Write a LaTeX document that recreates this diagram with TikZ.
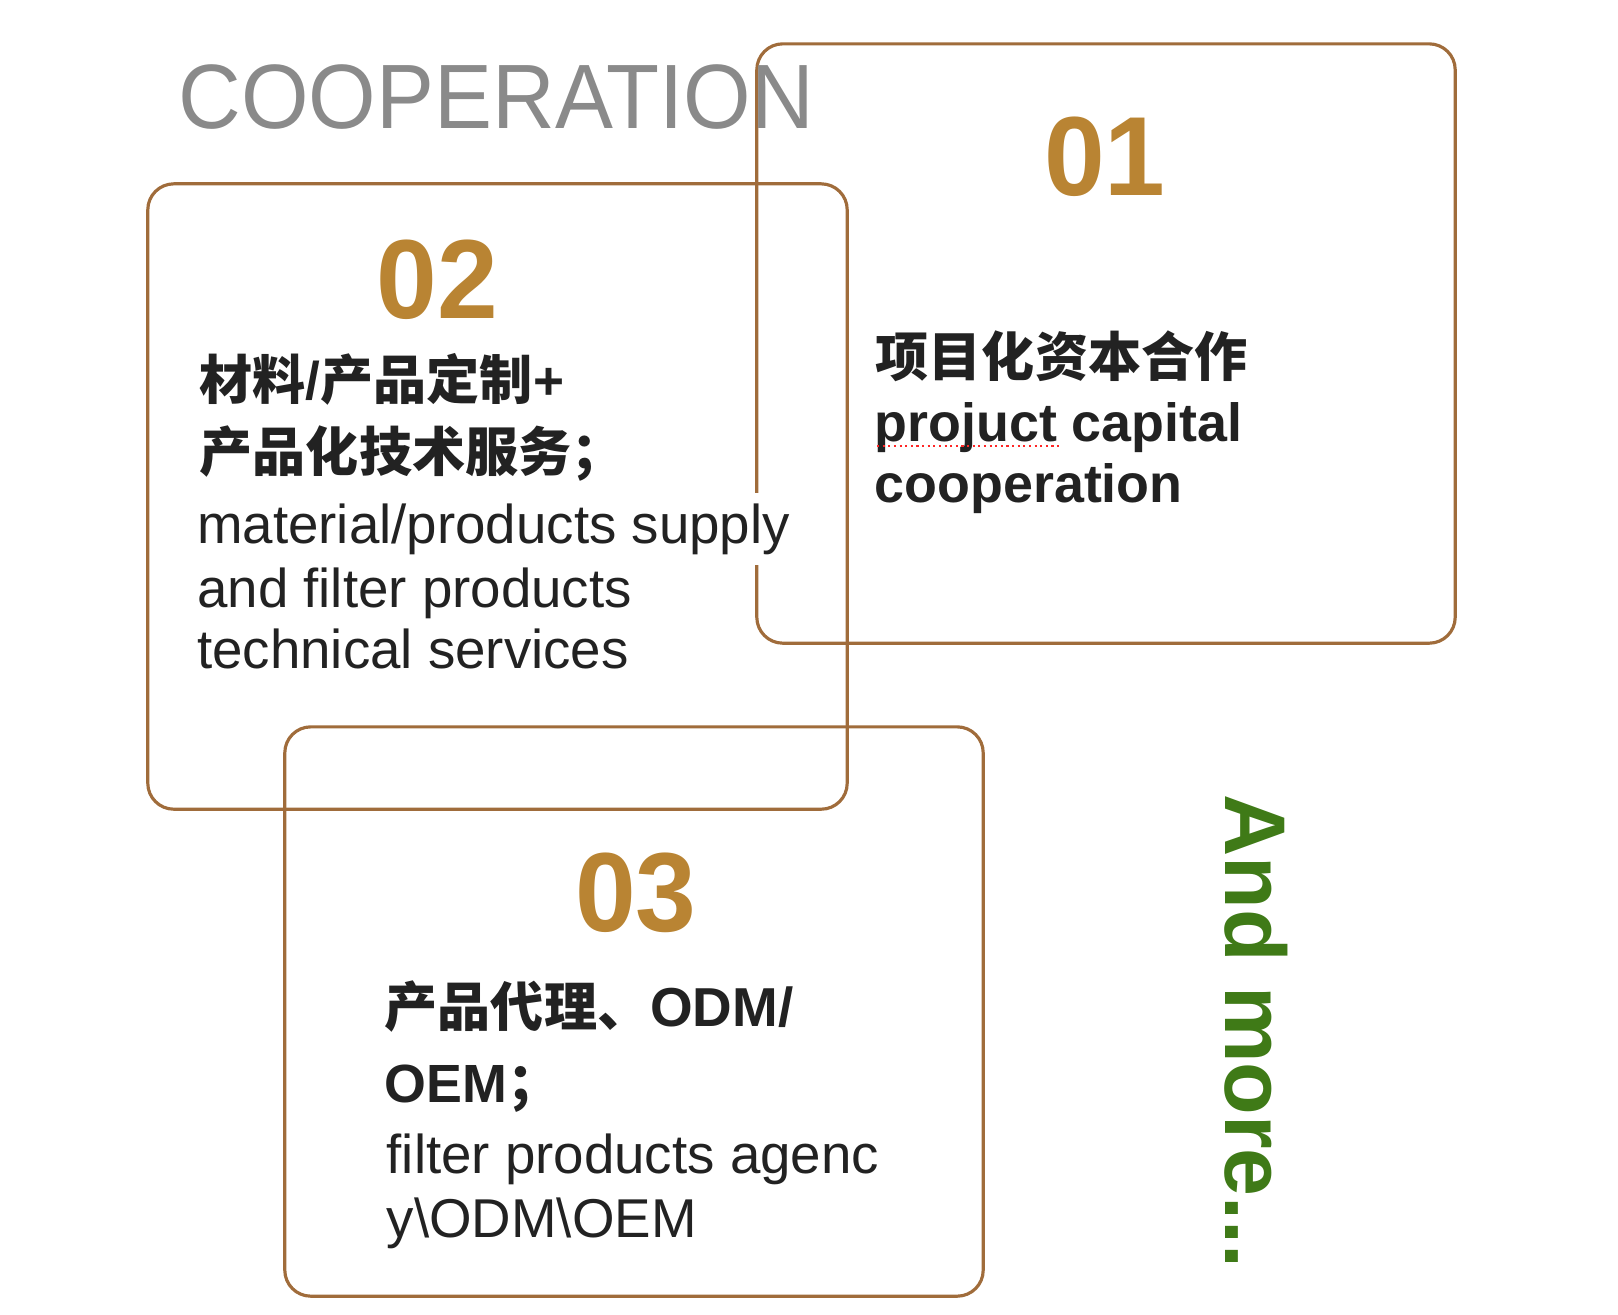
\documentclass[tikz,border=0pt]{standalone}
\usepackage{fontspec}
\setmainfont{Liberation Sans}
\newfontfamily\cjk{Noto Sans CJK SC}
\usepackage{xcolor}
\definecolor{cardbrown}{HTML}{A06C3B}
\definecolor{numgold}{HTML}{B98433}
\definecolor{titlegray}{HTML}{8A8A8A}
\definecolor{moregreen}{HTML}{3F7A17}
\definecolor{ink}{HTML}{222222}

\begin{document}
\begin{tikzpicture}[x=0.01cm,y=-0.01cm,
  card/.style={draw=cardbrown,line width=0.9pt,rounded corners=0.26cm,inner sep=0pt},
  num/.style={anchor=base,inner sep=0pt,text=numgold,font=\fontsize{32pt}{32pt}\selectfont\bfseries,xscale=0.97,transform shape},
  cn/.style={anchor=base west,inner sep=0pt,text=ink,font=\fontsize{15.1pt}{18pt}\selectfont\cjk\bfseries},
  enb/.style={anchor=base west,inner sep=0pt,text=ink,font=\fontsize{15.3pt}{18pt}\selectfont\bfseries},
  en/.style={anchor=base west,inner sep=0pt,text=ink,font=\fontsize{15.55pt}{18pt}\selectfont}]

  \useasboundingbox (0,0) rectangle (1618,1314);

  % cards
  \node[card,minimum width=6.98cm,minimum height=5.99cm] (box1) at (1106,343.5) {};
  \node[card,minimum width=6.99cm,minimum height=6.25cm] (box2) at (497.5,496.5) {};
  \node[card,minimum width=6.98cm,minimum height=5.69cm] (box3) at (634,1011.5) {};

  \node[anchor=base west,inner sep=0pt,text=titlegray,font=\fontsize{26pt}{26pt}\selectfont,
    xscale=0.95,transform shape] (title) at (178,128) {COOPERATION};

  % card 01
  \node[num] (n01) at (1105,195) {01};
  \node[cn] (t1a) at (875,376) {项目化资本合作};
  \node[enb] (t1b) at (874,441) {projuct capital};
  \node[enb] (t1c) at (874,502) {cooperation};
  \draw[red!85,densely dotted,line width=0.6pt] (t1b.base west) ++(3,5) -- ++(182,0);

  % card 02
  \node[num] (n02) at (437.5,318) {02};
  \node[cn] (t2a) at (199,399) {材料{\rmfamily/}产品定制{\rmfamily+}};
  \node[cn] (t2b) at (199,471) {产品化技术服务；};
  \node[en,fill=white,inner ysep=3pt] (t2c) at (196.5,543) {material/products supply};
  \node[en] (t2d) at (196.5,607) {and filter products};
  \node[en] (t2e) at (196.5,668) {technical services};

  % card 03
  \node[num] (n03) at (636,931) {03};
  \node[cn] (t3a) at (384,1026) {产品代理、{\rmfamily\fontsize{15.6pt}{18pt}\selectfont ODM/}};
  \node[enb] (t3b) at (384,1102) {OEM{\cjk ；}};
  \node[en] (t3c) at (386,1173) {filter products agenc};
  \node[en] (t3d) at (386,1237) {y\textbackslash ODM\textbackslash OEM};

  \node[rotate=-90,anchor=base west,inner sep=0pt,text=moregreen,
    font=\fontsize{24.5pt}{24.5pt}\selectfont\bfseries] (more) at (1225,794) {And more...};

\end{tikzpicture}
\end{document}
